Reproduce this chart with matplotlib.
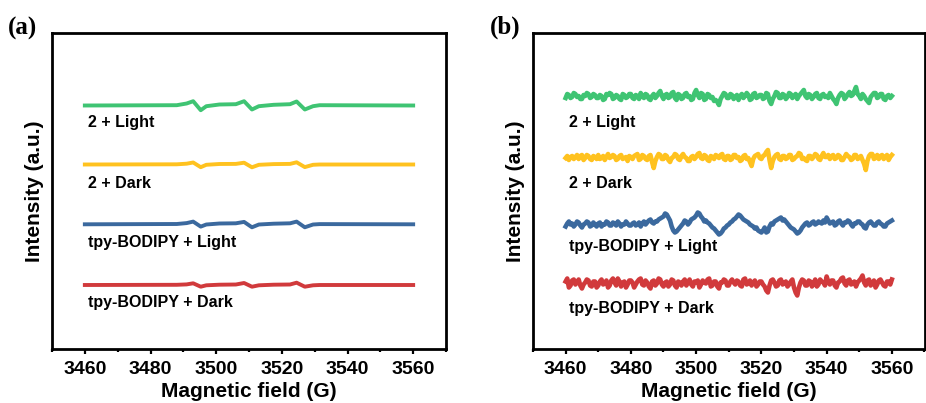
import matplotlib
matplotlib.use("Agg")
import matplotlib.pyplot as plt
import numpy as np

plt.rcParams['font.family'] = ['Liberation Sans', 'DejaVu Sans']
plt.rcParams['font.weight'] = 'bold'

labels = ["2 + Light", "2 + Dark", "tpy-BODIPY + Light", "tpy-BODIPY + Dark"]
colors = ["#3fc473", "#ffc21f", "#3b699e", "#d13a3c"]

# (a) spectra: field points where the trace changes direction
field_a = [3460, 3488, 3491, 3493, 3495.3, 3497, 3501, 3506, 3508.5, 3510.9,
           3513, 3517.5, 3522.5, 3524.5, 3527, 3529.5, 3531.5, 3560]
green_a = [0, 0.3, 2, 4.3, -4.7, -0.7, 1, 1.3, 4.3, -4, -0.7, 0.7, 1.3, 4, -4, -0.7, 0.3, 0]
yellow_a = [0, 0.2, 0.8, 2, -2.7, -0.3, 0.5, 0.6, 1.8, -2.8, -0.3, 0.4, 0.6, 2.2, -2.6, -0.3, 0, 0]
blue_a = [0, 0.3, 1.2, 2.7, -2.3, -0.2, 0.8, 1, 2.4, -3, -0.2, 0.6, 1, 2.7, -3, -0.2, 0.2, 0]
red_a = [0, 0.2, 0.6, 1.7, -1.7, -0.3, 0.3, 0.5, 2, -1.7, -0.3, 0.3, 0.5, 2.3, -1.7, -0.3, 0, 0]

# (b) spectra, 0.5 G steps from 3460 to 3560 (one row = 10 G)
field_b = np.arange(3460, 3560.01, 0.5)
green_b = [-1, 3, 2, -1, 0, 4, 3, 0, 1, -2, -2, 2, 1, 4, 3, -1, 0, 3, 2, -1,
           -1, 2, 1, -3, -2, 3, 2, 4, 3, -2, -1, 2, 1, -2, -3, 3, 2, -1, 0, 3,
           3, -1, -2, 2, 1, -2, 4, 1, -1, 3, 2, -2, -3, 1, 3, -1, 1, 4, 6, 1,
           -2, 2, 3, -1, 0, 4, 5, -1, -3, 3, 2, -2, -1, 3, 4, 0, 1, -3, -2, 4,
           7, 2, -1, 4, 3, -3, -2, 3, 2, -1, 0, -4, -3, -5, -8, -2, 1, 4, 3, -1,
           -1, 3, 2, -2, 0, 2, -3, 1, 3, -1, 1, 4, 2, -3, -2, 3, 4, -1, 0, 2,
           2, -2, -1, 4, 3, -4, -7, -2, 1, 5, 4, -1, -1, 3, 2, -2, 0, 4, 3, -1,
           1, 3, -2, 1, 3, 5, 7, 1, -1, 3, 2, -2, 0, 3, 4, -1, -2, 2, 3, 0,
           1, -1, 4, 1, -2, -4, -7, -1, 2, 4, 3, -2, 0, 3, 5, 1, 2, 6, 10, 3,
           1, -2, 3, 1, -2, -4, -6, 0, 2, 4, 4, -1, 0, 3, 3, -2, -3, 1, 2, -1,
           1]
yellow_b = [0, 2, -2, 1, 2, -1, 1, 3, -1, 2, 3, -2, 0, 3, 2, -1, -2, 2, 1, -1,
            3, -1, 0, 2, -2, 1, 4, 0, 1, 3, 2, -2, -1, 2, 3, -1, 0, 1, -3, 2,
            1, -1, 2, 3, 4, -2, -1, 3, 2, -1, -2, 2, 3, -4, -10, -3, 1, 4, 3, -1,
            -1, 3, 2, -2, -4, 0, 1, 4, 3, -1, -2, 2, 4, 1, 0, -3, -3, 1, 2, -1,
            1, 4, 5, 0, -1, 3, 2, -2, -3, 2, 1, -1, 3, 2, 0, 3, 4, -1, -2, 2,
            2, -2, -1, 3, 3, 0, 1, -3, -2, 2, 3, -1, 0, -4, -8, -1, 2, 3, 4, 0,
            -1, 2, 3, 6, 8, -2, -10, -3, 1, 3, 4, -1, -2, 2, 2, -1, 0, 3, 3, -2,
            -1, 1, 2, 5, 4, -1, 0, -2, -3, 2, 2, -1, 1, 4, 3, -1, -2, 2, 5, 1,
            1, 3, -1, 2, 3, -1, 0, 3, 2, -2, -2, 1, 4, 2, 1, -2, -1, 3, 3, -1,
            0, 2, -2, -6, -12, -3, 2, 4, 4, -1, 0, 3, -1, 2, 3, -1, 1, 3, -2, 1,
            3]
blue_b = [-2, 1, 3, 0, 1, -2, 0, 3, 2, -1, -3, 0, 1, 3, 2, -2, -1, 2, 0, -2,
          1, 2, -2, 0, 0, 3, 2, -1, -1, 2, 1, -1, 3, 1, -2, 0, 0, 3, 1, -1,
          -1, 1, 2, -1, 0, 2, -2, 1, 3, 0, 2, 4, 5, 2, 1, 3, 3, 5, 6, 7,
          8, 11, 10, 7, 4, -2, -6, -8, -7, -5, -3, -1, 1, 4, 3, 0, 2, 5, 6, 7,
          9, 12, 11, 8, 6, 3, 4, 2, 1, -1, -3, -4, -6, -8, -10, -9, -7, -4, -3, -1,
          0, 2, 3, 5, 6, 8, 10, 9, 7, 5, 4, 3, 2, 0, -1, -2, -4, -3, -6, -7,
          -8, -6, -3, -8, -7, -2, 1, 0, 3, 4, 5, 6, 7, 4, 5, 3, 1, -1, -3, -4,
          -5, -7, -9, -8, -6, -3, -1, 1, 2, -1, 0, 2, 3, 0, 1, 3, 2, 1, 4, 2,
          7, 4, 1, 2, 3, -1, 0, 3, 4, 1, -1, 2, 2, 4, 3, 0, -2, 1, 1, 3,
          3, 1, 0, -3, -4, 0, 2, 3, 1, -1, -1, 2, 3, 1, 0, -2, -2, 1, 2, 3,
          4]
red_b = [2, 5, -4, -2, 3, 4, -1, 1, 4, -2, -5, -1, 1, 4, 3, -2, -3, 2, 2, -4,
         -2, 2, 4, -1, 0, 3, -4, -2, 3, 5, 1, -2, 5, 2, -3, 1, 2, -4, -1, 3,
         3, 1, -4, -1, 2, 4, 5, -1, -2, 3, 1, -3, -5, 2, 3, -2, 0, 5, 4, -1,
         -3, 1, 2, -3, -1, 4, 3, -2, -4, 2, 1, -2, 2, 4, -2, 1, 4, -1, -3, 2,
         1, 3, -4, -1, 3, 1, 0, 4, 5, -3, -2, 2, 2, -3, -5, 1, 1, 4, 3, -2,
         -2, 2, 4, 1, -1, 3, 2, -2, -3, 4, 5, -1, 0, 3, -2, 1, 3, -3, -1, 2,
         2, -1, -3, -7, -9, -2, 3, 4, 1, -3, -2, 3, 4, -1, 0, 2, -3, -1, 2, 4,
         -4, -9, -12, -4, 1, 4, 3, -2, -2, 3, 2, -3, 0, 4, -3, -1, 4, 2, 1, -2,
         7, 2, -1, 3, 3, -2, -4, 1, 2, 5, 6, 0, -2, 3, 4, -1, 0, 2, -3, 1,
         3, 5, 8, 1, -2, 3, 4, -2, 0, 3, -4, -1, 3, 4, 1, -2, -3, 2, 2, -1,
         4]

# vertical stacking of the traces and their captions
offsets_a = [243.5, 184.5, 124.7, 64]
text_y_a = [226, 166, 106, 46]
offsets_b = [252, 191, 124.5, 65.5]
text_y_b = [226, 166, 102, 40]

fig = plt.figure(figsize=(9.26, 4.03), dpi=100)
ax1 = fig.add_axes([52 / 926, 54 / 403, 394 / 926, 316 / 403])
ax2 = fig.add_axes([533 / 926, 54 / 403, 391.5 / 926, 316 / 403])


def style_axis(ax):
    ax.set_xlim(3450, 3570)
    ax.set_ylim(0, 316)
    ax.set_xticks([3460, 3480, 3500, 3520, 3540, 3560])
    ax.set_xticks(np.arange(3450, 3571, 10), minor=True)
    ax.set_yticks([])
    for s in ax.spines.values():
        s.set_linewidth(2.0)
    ax.tick_params(axis='x', which='major', direction='out', length=3.5, width=1.6,
                   labelsize=14, pad=5)
    ax.tick_params(axis='x', which='minor', direction='out', length=2, width=1.6)
    for t in ax.get_xticklabels():
        t.set_fontweight('bold')
    ax.set_xlabel("Magnetic field (G)", fontsize=15, fontweight='bold', labelpad=3)
    ax.set_ylabel("Intensity (a.u.)", fontsize=15, fontweight='bold', labelpad=6)


series_a = [green_a, yellow_a, blue_a, red_a]
for vals, off, ty, col, lab in zip(series_a, offsets_a, text_y_a, colors, labels):
    ax1.plot(field_a, np.array(vals) + off, color=col, lw=2.8, solid_joinstyle='round')
    ax1.text(3461, ty, lab, fontsize=11.5, fontweight='bold', va='center', ha='left')

series_b = [green_b, yellow_b, blue_b, red_b]
for vals, off, ty, col, lab in zip(series_b, offsets_b, text_y_b, colors, labels):
    ax2.plot(field_b, np.array(vals) + off, color=col, lw=3.3, solid_joinstyle='round')
    ax2.text(3461, ty, lab, fontsize=11.5, fontweight='bold', va='center', ha='left')

style_axis(ax1)
style_axis(ax2)

fig.text(8 / 926, 1 - 28 / 403, "(a)", family=['Liberation Serif', 'DejaVu Serif'],
         fontsize=18, fontweight='bold', va='center', ha='left')
fig.text(490 / 926, 1 - 27 / 403, "(b)", family=['Liberation Serif', 'DejaVu Serif'],
         fontsize=18, fontweight='bold', va='center', ha='left')

fig.savefig("out.png", dpi=100)
